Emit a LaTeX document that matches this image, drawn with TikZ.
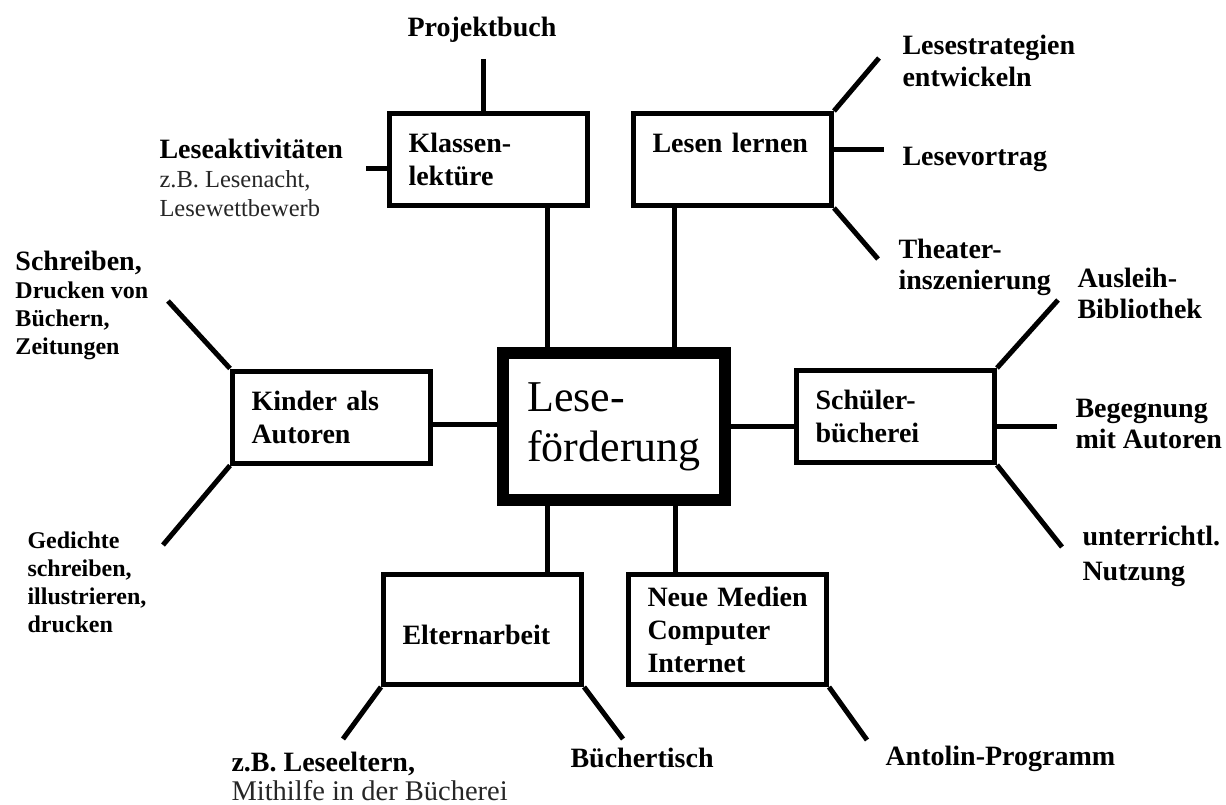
\documentclass[tikz,border=0pt]{standalone}
\usepackage{fontspec}
\setmainfont{Liberation Serif}
\usetikzlibrary{positioning}
\hyphenpenalty=10000

\begin{document}
\begin{tikzpicture}
  [x=1pt,y=-1pt,line width=5pt,
   box/.style={draw,line width=5pt,minimum width=198pt,minimum height=92pt,
     text width=160pt,align=left,inner sep=0pt,
     font=\fontsize{28}{33}\selectfont\bfseries},
   hub/.style={draw,line width=12pt,minimum width=222pt,minimum height=147pt,
     align=left,inner sep=0pt,font=\fontsize{44}{50}\selectfont},
   lbl/.style={anchor=base west,align=left,inner sep=0pt,
     font=\fontsize{28}{32}\selectfont\bfseries},
   sml/.style={lbl,font=\fontsize{24}{28}\selectfont\bfseries},
   note/.style={lbl,text=black!85,font=\fontsize{24.5}{29}\selectfont}]

  \useasboundingbox (0,0) rectangle (1226,805);

  % boxes
  \node[hub] (lf) at (614,426.5) {Lese-\\förderung};
  \node[box] (kl) at (488.5,159.5) {Klassen-\\lektüre};
  \node[box,text depth=33pt] (ll) at (732.5,159.5) {Lesen~lernen};
  \node[box] (ka) at (331.5,417) {Kinder~als\\Autoren};
  \node[box] (sb) at (895.5,416.5) {Schüler-\\bücherei};
  \node[box,minimum height=110pt,text height=31pt] (ea) at (482.5,629.5) {Elternarbeit};
  \node[box,minimum height=110pt] (nm) at (727.5,629.5) {Neue~Medien\\Computer\\Internet};

  % labels (base = last line)
  \node[lbl] (pb) at (405,37) {Projektbuch};
  \node[lbl] (la) at (157,159) {Leseaktivitäten};
  \node[note] (la2) at (157,217) {z.B. Lesenacht,\\Lesewettbewerb};
  \node[lbl] (ls) at (900,87) {Lesestrategien\\entwickeln};
  \node[lbl] (lv) at (900,166) {Lesevortrag};
  \node[lbl,font=\fontsize{28}{31}\selectfont\bfseries] (th) at (896,289) {Theater-\\inszenierung};
  \node[lbl] (sd) at (13,270) {Schreiben,};
  \node[sml] (sd2) at (13,354) {Drucken von\\Büchern,\\Zeitungen};
  \node[sml] (gd) at (25,632) {Gedichte\\schreiben,\\illustrieren,\\drucken};
  \node[lbl,font=\fontsize{28}{31}\selectfont\bfseries] (au) at (1075,318) {Ausleih-\\Bibliothek};
  \node[lbl,font=\fontsize{28}{31}\selectfont\bfseries] (bg) at (1073,448) {Begegnung\\mit Autoren};
  \node[lbl,font=\fontsize{28}{35}\selectfont\bfseries] (un) at (1080,580) {unterrichtl.\\Nutzung};
  \node[lbl] (zb) at (229,771) {z.B. Leseeltern,};
  \node[note,font=\fontsize{28.5}{32}\selectfont] (mh) at (229,800) {Mithilfe in der Bücherei};
  \node[lbl] (bt) at (568,767) {Büchertisch};
  \node[lbl] (ap) at (883,765) {Antolin-Programm};

  % free ends
  \coordinate (pb-e) at (483,59);
  \coordinate (la-e) at (366,169);
  \coordinate (ls-e) at (879,58);
  \coordinate (lv-e) at (884,150);
  \coordinate (th-e) at (878,259);
  \coordinate (sd-e) at (168,301);
  \coordinate (gd-e) at (163,545);
  \coordinate (au-e) at (1058,300);
  \coordinate (bg-e) at (1057,426);
  \coordinate (un-e) at (1062,547);
  \coordinate (zb-e) at (343,739);
  \coordinate (bt-e) at (623,739);
  \coordinate (ap-e) at (867,740);

  % joints at the hub
  \coordinate (kl-s) at ([xshift=58.5pt]kl.south);
  \coordinate (ll-s) at ([xshift=-58pt]ll.south);
  \coordinate (ea-n) at ([xshift=64.5pt]ea.north);
  \coordinate (nm-n) at ([xshift=-52.5pt]nm.north);
  \coordinate (ka-e) at ([yshift=-7pt]ka.east);
  \coordinate (sb-w) at ([yshift=-9.5pt]sb.west);

  \foreach \from in {kl-s,ll-s}
    \draw (\from) -- (\from |- lf.north);
  \foreach \from in {ea-n,nm-n}
    \draw (\from) -- (\from |- lf.south);
  \draw (ka-e) -- (ka-e -| lf.west);
  \draw (sb-w) -- (sb-w -| lf.east);

  \draw (pb-e) -- (pb-e |- kl.north);
  \draw (la-e) -- (la-e -| kl.west);
  \draw (lv-e) -- (lv-e -| ll.east);
  \draw (bg-e) -- (bg-e -| sb.east);

  \foreach \from/\to in {ll.north east/ls-e,ll.south east/th-e,ka.north west/sd-e,
      ka.south west/gd-e,sb.north east/au-e,sb.south east/un-e,
      ea.south west/zb-e,ea.south east/bt-e,nm.south east/ap-e}
    \draw (\from) -- (\to);

\end{tikzpicture}
\end{document}
